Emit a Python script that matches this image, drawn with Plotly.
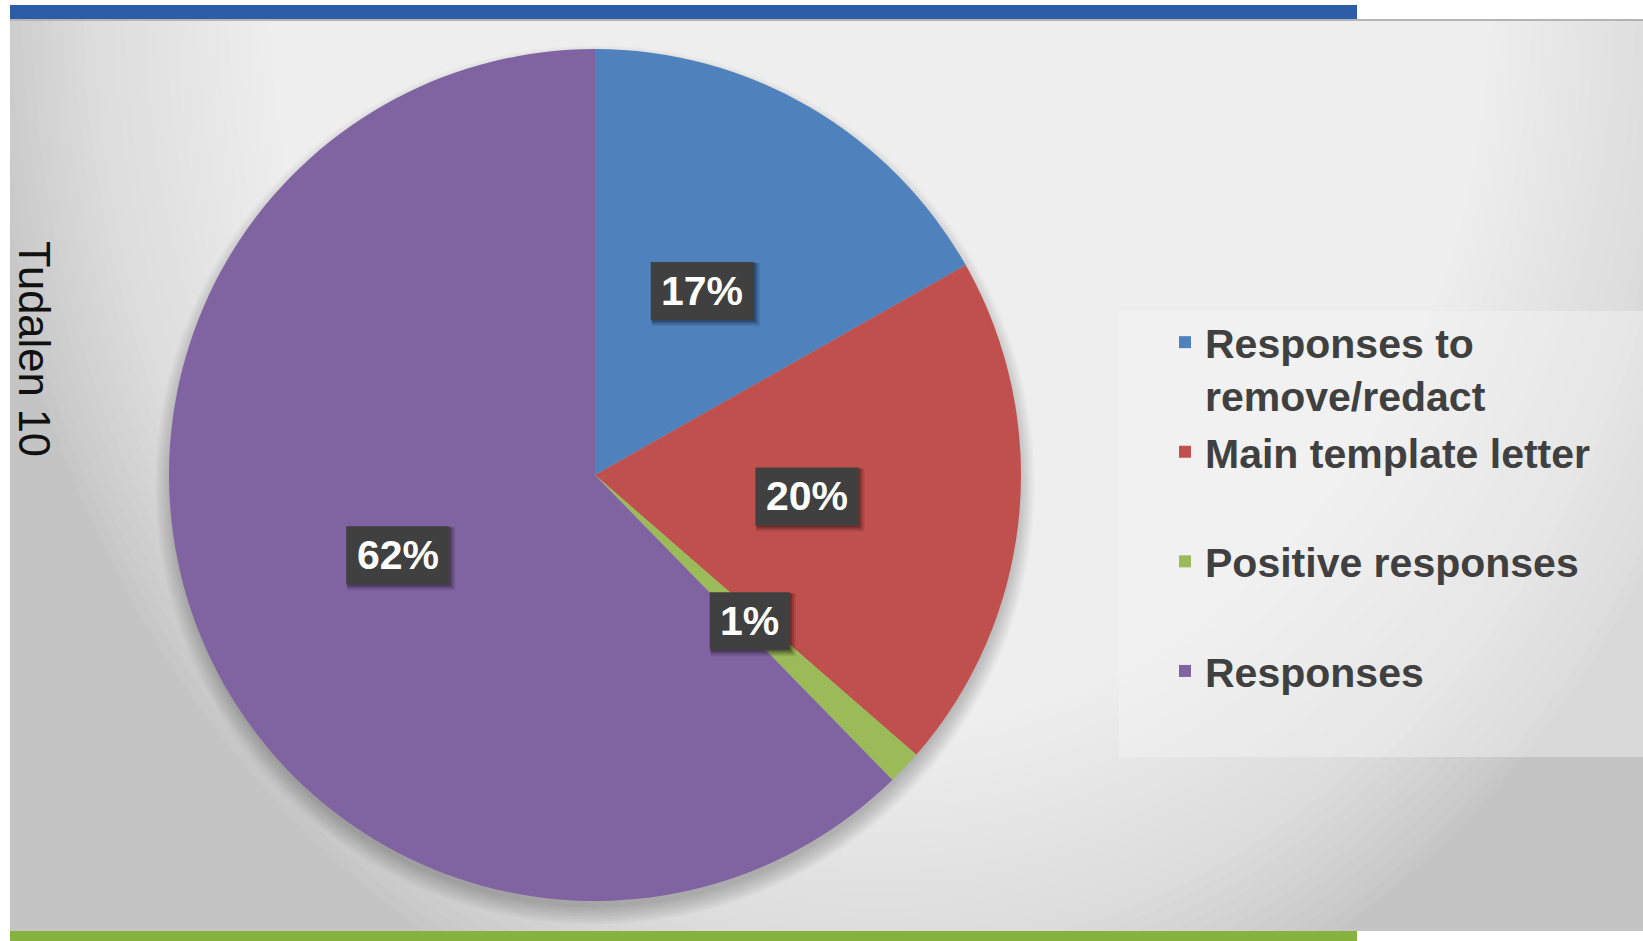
import math
import plotly.graph_objects as go

# ---- data ----
categories = ["Responses to remove/redact", "Main template letter", "Positive responses", "Responses"]
legend_labels = ["Responses to<br>remove/redact", "Main template letter<br>\u00a0", "Positive responses<br>\u00a0", "Responses"]
values = [16.8, 19.6, 1.3, 62.3]
colors = ["#4F81BD", "#C0504D", "#9BBB59", "#8064A2"]
side_title = "Tudalen 10"

W, H = 1643, 941
def fx(px):
    return px / W
def fy(py):
    return 1 - py / H

# pie geometry (pixels)
cx, cy, R = 595, 475, 426

shapes = []
# panel base
shapes.append(dict(type="rect", xref="paper", yref="paper", x0=fx(10), x1=fx(W), y0=fy(931), y1=fy(19),
                   fillcolor="#c4c4c4", line=dict(width=0), layer="below"))
# radial gradient (light centred near top)
gx, gy = 880, 0
N = 60
for k in range(N):
    rx = 900 - 620 * k / N
    ry = rx * 1.2
    shapes.append(dict(type="circle", xref="paper", yref="paper",
                       x0=fx(gx - rx), x1=fx(gx + rx), y0=fy(gy + ry), y1=fy(gy - ry),
                       fillcolor="rgba(255,255,255,0.055)", line=dict(width=0), layer="below"))
# pie shadow (mostly below the pie)
for k in range(12):
    rr = R - 4 + k * 1.6
    shapes.append(dict(type="circle", xref="paper", yref="paper",
                       x0=fx(cx - rr), x1=fx(cx + rr), y0=fy(cy + 10 + rr), y1=fy(cy + 10 - rr),
                       fillcolor="rgba(0,0,0,0.02)", line=dict(width=0), layer="below"))
# legend box background
shapes.append(dict(type="rect", xref="paper", yref="paper", x0=fx(1119), x1=fx(W), y0=fy(757), y1=fy(311),
                   fillcolor="rgba(245,245,245,0.45)", line=dict(width=0), layer="below"))
# masks outside the panel
shapes.append(dict(type="rect", xref="paper", yref="paper", x0=-0.1, x1=1.1, y0=fy(19), y1=1.2,
                   fillcolor="white", line=dict(width=0), layer="below"))
shapes.append(dict(type="rect", xref="paper", yref="paper", x0=-0.1, x1=fx(10), y0=-0.2, y1=1.2,
                   fillcolor="white", line=dict(width=0), layer="below"))
shapes.append(dict(type="rect", xref="paper", yref="paper", x0=-0.1, x1=1.1, y0=-0.2, y1=fy(931),
                   fillcolor="white", line=dict(width=0), layer="below"))
# panel top border line
shapes.append(dict(type="line", xref="paper", yref="paper", x0=fx(10), x1=fx(W), y0=fy(20), y1=fy(20),
                   line=dict(color="#b4b4b4", width=2), layer="below"))
# top blue bar, bottom green bar
shapes.append(dict(type="rect", xref="paper", yref="paper", x0=fx(10), x1=fx(1357), y0=fy(19), y1=fy(5),
                   fillcolor="#2E5DA8", line=dict(width=0), layer="below"))
shapes.append(dict(type="rect", xref="paper", yref="paper", x0=fx(10), x1=fx(1357), y0=fy(H + 2), y1=fy(931),
                   fillcolor="#86B33F", line=dict(width=0), layer="below"))

dom_x = [fx(cx - R), fx(cx + R)]
dom_y = [fy(cy + R), fy(cy - R)]

fig = go.Figure()
fig.add_trace(go.Pie(
    labels=legend_labels, values=values, sort=False, direction="clockwise", rotation=0,
    marker=dict(colors=colors, line=dict(width=0)), textinfo="none", hoverinfo="label+percent",
    domain=dict(x=dom_x, y=dom_y),
))
fig.add_trace(go.Scatter(x=[], y=[], xaxis="x", yaxis="y", showlegend=False))

# data labels at slice mid-angles, half radius
total = sum(values)
annotations = []
cum = 0.0
fs = 41
bh = 58
for v in values:
    theta = 2 * math.pi * (cum + v / 2) / total
    cum += v
    lx, ly = 0.5 * math.sin(theta), 0.5 * math.cos(theta)
    txt = f"{v / total:.0%}"
    ndig = len(txt) - 1
    bw = fs * (0.556 * ndig + 0.889) + 21
    # soft shadow
    for s, a in [(6, 0.10), (4, 0.16), (2, 0.22)]:
        shapes.append(dict(type="rect", xref="x", yref="y", xsizemode="pixel", ysizemode="pixel",
                           xanchor=lx, yanchor=ly, x0=-bw / 2 + 1, x1=bw / 2 + s, y0=-bh / 2 - s, y1=bh / 2 - 1,
                           fillcolor=f"rgba(0,0,0,{a})", line=dict(width=0), layer="above"))
    shapes.append(dict(type="rect", xref="x", yref="y", xsizemode="pixel", ysizemode="pixel",
                       xanchor=lx, yanchor=ly, x0=-bw / 2, x1=bw / 2, y0=-bh / 2, y1=bh / 2,
                       fillcolor="#404040", line=dict(width=0), layer="above"))
    annotations.append(dict(x=lx, y=ly, xref="x", yref="y", text=txt, showarrow=False,
                            font=dict(family="Liberation Sans, Arial", size=fs, color="white", weight="bold")))

annotations.append(dict(x=fx(34), y=fy(349), xref="paper", yref="paper", text=side_title, showarrow=False,
                        xanchor="center", yanchor="middle",
                        textangle=90, font=dict(family="Liberation Sans, Arial", size=43.5, color="#111111")))

fig.update_layout(
    width=W, height=H, margin=dict(l=0, r=0, t=0, b=0),
    paper_bgcolor="white", plot_bgcolor="rgba(0,0,0,0)",
    xaxis=dict(domain=dom_x, range=[-1, 1], visible=False, fixedrange=True),
    yaxis=dict(domain=dom_y, range=[-1, 1], visible=False, fixedrange=True),
    shapes=shapes, annotations=annotations,
    showlegend=True,
    legend=dict(x=fx(1165), y=fy(309), xanchor="left", yanchor="top", valign="top",
                bgcolor="rgba(0,0,0,0)", font=dict(family="Liberation Sans, Arial", size=41, color="#404040", weight="bold")),
)

fig.write_html("out.html", config={"displayModeBar": False},
               post_script="document.body.style.margin='0px';document.body.style.overflow='hidden';")
